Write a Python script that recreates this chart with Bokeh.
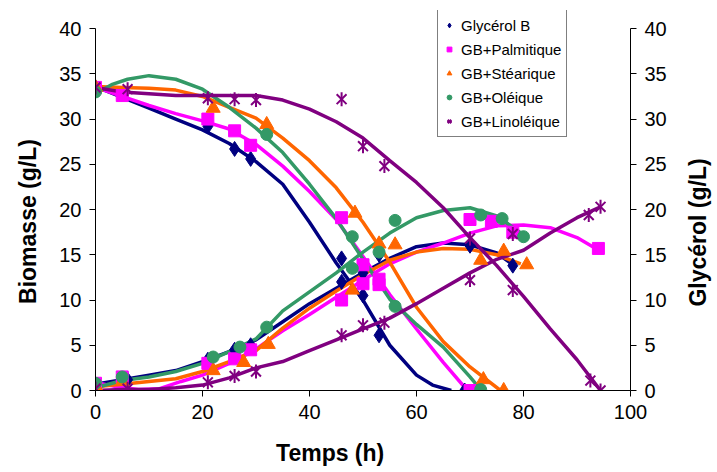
from bokeh.plotting import figure
from bokeh.layouts import row, column
from bokeh.models import Range1d, LinearAxis, SingleIntervalTicker, Legend, LegendItem
from bokeh.core.properties import value
from bokeh.embed import file_html
from bokeh.resources import INLINE
import math

# ---------------- data ----------------
# measured points (markers)
gb_t_gly = [0, 21, 26, 29, 46, 50, 53, 69]
gb_gly = [33.5, 29.2, 26.7, 25.6, 14.6, 10.5, 6.1, 0]
gb_t_bio = [0, 6, 21, 26, 29, 46, 50, 53, 70, 78]
gb_bio = [0.7, 1.2, 3.4, 4.5, 5.0, 12.0, 13.0, 15.0, 16.0, 13.8]

pa_t_gly = [0, 5, 21, 26, 29, 46, 50, 53, 70]
pa_gly = [33.5, 32.6, 30.0, 28.7, 27.1, 19.1, 13.9, 12.3, 0]
pa_t_bio = [0, 5, 21, 26, 29, 46, 50, 53, 70, 74, 78, 94]
pa_bio = [0.8, 1.5, 3.0, 3.5, 4.5, 10.0, 11.8, 11.7, 18.9, 18.7, 17.5, 15.7]

st_t_gly = [0, 22, 32, 48.5, 53, 72.5, 76.3]
st_gly = [33.5, 31.2, 29.4, 19.6, 16.2, 1.2, 0]
st_t_bio = [0, 5, 22, 27.7, 32.3, 48, 56, 72, 76.3, 80.6]
st_bio = [0.5, 1.0, 2.2, 3.1, 5.1, 11.1, 16.1, 14.4, 15.4, 13.9]

ol_t_gly = [0, 32, 48, 56, 72]
ol_gly = [33.0, 28.3, 17.0, 9.3, 0.1]
ol_t_bio = [0, 5, 22, 27, 32, 48, 53, 56, 72, 76, 80]
ol_bio = [0.8, 1.5, 3.7, 4.8, 7.0, 13.5, 15.3, 18.8, 19.4, 19.0, 17.0]

li_t_gly = [0, 6, 21, 26, 30, 46, 50, 54, 70, 78, 92.5, 94.4]
li_gly = [33.5, 33.3, 32.3, 32.2, 32.1, 32.2, 27.0, 24.8, 16.8, 11.1, 1.1, 0]
li_t_bio = [0, 6, 21, 26, 30, 46, 50, 54, 70, 78, 92.2, 94.4]
li_bio = [0.2, 0.2, 0.9, 1.6, 2.1, 6.1, 7.2, 7.5, 12.2, 17.3, 19.4, 20.3]

# fitted curves (lines)
gb_ct_gly = [0, 5, 10, 15, 20, 25, 30, 35, 40, 45, 50, 55, 60, 63, 66.5]
gb_c_gly = [33.6, 32.4, 31.2, 30.0, 28.8, 27.3, 25.3, 22.8, 18.6, 14.1, 10.0, 5.0, 1.7, 0.6, 0]
gb_ct_bio = [0, 5, 10, 15, 20, 25, 30, 35, 40, 45, 50, 55, 60, 65, 70, 75, 78.5]
gb_c_bio = [0.7, 1.2, 1.7, 2.2, 3.2, 4.3, 5.6, 7.6, 9.6, 11.3, 13.0, 14.6, 15.9, 16.3, 16.1, 15.2, 13.7]

pa_ct_gly = [0, 5, 10, 15, 20, 25, 30, 35, 40, 45, 50, 55, 60, 65, 69.5]
pa_c_gly = [33.5, 32.5, 31.5, 30.6, 29.8, 28.9, 27.2, 24.8, 22.0, 18.9, 14.8, 10.6, 6.8, 3.1, 0]
pa_ct_bio = [0, 4, 8, 12, 16, 20, 25, 30, 35, 40, 45, 50, 55, 60, 65, 70, 75, 80, 85, 90, 93.5]
pa_c_bio = [0.9, 0.4, 0.1, 0.2, 1.0, 1.7, 3.0, 4.6, 6.6, 8.4, 10.3, 12.2, 14.0, 15.3, 16.3, 17.4, 18.2, 18.3, 18.0, 16.9, 15.7]

st_ct_gly = [0, 5, 10, 15, 20, 25, 30, 35, 40, 45, 50, 55, 60, 65, 70, 75.7]
st_c_gly = [33.6, 33.5, 33.4, 33.2, 32.5, 31.3, 30.1, 27.9, 25.4, 22.4, 18.6, 14.2, 9.2, 5.4, 2.6, 0]
st_ct_bio = [0, 5, 10, 15, 20, 25, 30, 35, 40, 45, 50, 55, 60, 65, 70, 75, 79.5]
st_c_bio = [0.4, 0.7, 1.0, 1.3, 2.1, 3.2, 4.4, 6.9, 9.1, 11.0, 12.8, 14.4, 15.3, 15.7, 15.6, 15.0, 14.0]

ol_ct_gly = [0, 3, 6, 10, 15, 20, 25, 30, 35, 40, 45, 50, 55, 60, 65, 70, 72]
ol_c_gly = [32.8, 33.8, 34.4, 34.8, 34.4, 33.3, 31.3, 29.0, 26.3, 22.8, 19.0, 14.5, 10.1, 7.3, 4.8, 1.5, 0.1]
ol_ct_bio = [0, 5, 10, 15, 20, 25, 30, 35, 40, 45, 50, 55, 60, 65, 70, 75, 80.5]
ol_c_bio = [0.3, 1.1, 1.5, 2.1, 3.0, 4.3, 5.7, 8.8, 10.9, 13.0, 15.3, 17.4, 19.1, 19.9, 20.2, 19.3, 17.0]

li_ct_gly = [0, 5, 10, 15, 20, 25, 30, 35, 40, 45, 50, 55, 60, 65, 70, 75, 80, 85, 90, 94.4]
li_c_gly = [33.5, 33.0, 32.8, 32.6, 32.6, 32.6, 32.6, 32.1, 31.1, 29.7, 27.9, 25.4, 23.0, 20.2, 16.9, 13.8, 10.4, 6.8, 3.4, 0]
li_ct_bio = [0, 5, 10, 15, 20, 25, 30, 35, 40, 45, 50, 55, 60, 65, 70, 75, 80, 85, 90, 94.4]
li_c_bio = [0, 0.1, 0.1, 0.3, 0.6, 1.4, 2.5, 3.2, 4.4, 5.6, 6.8, 8.0, 9.6, 11.3, 13.0, 14.5, 15.5, 17.4, 19.1, 20.3]

labels = ["Glycérol B", "GB+Palmitique", "GB+Stéarique", "GB+Oléique", "GB+Linoléique"]
colors = ["#000080", "#FF00FF", "#FF6600", "#339966", "#800080"]
x_title = "Temps (h)"
y_left_title = "Biomasse (g/L)"
y_right_title = "Glycérol (g/L)"

FONT = "Liberation Sans"

# ---------------- main plot ----------------
p = figure(width=627, height=437, output_backend="svg", toolbar_location=None,
           x_range=Range1d(0, 100), y_range=Range1d(0, 42),
           min_border_left=50, min_border_right=42, min_border_top=10, min_border_bottom=47)
p.outline_line_color = None
p.xgrid.visible = False
p.ygrid.visible = False
p.background_fill_color = "white"

p.extra_y_ranges = {"gly": Range1d(0, 42)}
raxis = LinearAxis(y_range_name="gly")
p.add_layout(raxis, "right")

for ax in [p.xaxis[0], p.yaxis[0], raxis]:
    ax.axis_line_color = "black"
    ax.axis_line_width = 1
    ax.major_tick_line_color = "black"
    ax.major_tick_in = 0
    ax.major_tick_out = 6
    ax.minor_tick_line_color = None
    ax.major_label_text_font = FONT
    ax.major_label_text_font_size = "20px"
    ax.major_label_text_color = "black"
    ax.major_label_standoff = 8

p.yaxis[0].bounds = (0, 40)
raxis.bounds = (0, 40)
p.xaxis[0].ticker = SingleIntervalTicker(interval=20)
p.yaxis[0].ticker = SingleIntervalTicker(interval=5)
raxis.ticker = SingleIntervalTicker(interval=5)

curves = [
    (gb_ct_gly, gb_c_gly, gb_ct_bio, gb_c_bio),
    (pa_ct_gly, pa_c_gly, pa_ct_bio, pa_c_bio),
    (st_ct_gly, st_c_gly, st_ct_bio, st_c_bio),
    (ol_ct_gly, ol_c_gly, ol_ct_bio, ol_c_bio),
    (li_ct_gly, li_c_gly, li_ct_bio, li_c_bio),
]
points = [
    (gb_t_gly, gb_gly, gb_t_bio, gb_bio),
    (pa_t_gly, pa_gly, pa_t_bio, pa_bio),
    (st_t_gly, st_gly, st_t_bio, st_bio),
    (ol_t_gly, ol_gly, ol_t_bio, ol_bio),
    (li_t_gly, li_gly, li_t_bio, li_bio),
]

for (tg, g, tb, b), c in zip(curves, colors):
    p.line(tg, g, line_color=c, line_width=3.5)
    p.line(tb, b, line_color=c, line_width=3.5)

markers = ["diamond", "square", "triangle", "circle", None]
sizes = [15, 12, 14, 12, 14]
items = []
for (tg, g, tb, b), c, m, s, lab in zip(points, colors, markers, sizes, labels):
    xs = list(tg) + list(tb)
    ys = list(g) + list(b)
    if m is not None:
        r = p.scatter(xs, ys, marker=m, size=s, fill_color=c, line_color=c)
        items.append(LegendItem(label=lab, renderers=[r]))
    else:
        r1 = p.scatter(xs, ys, marker="x", size=s, line_color=c, line_width=2)
        r2 = p.scatter(xs, ys, marker="dash", size=s, angle=math.pi / 2, line_color=c, line_width=2)
        items.append(LegendItem(label=lab, renderers=[r1, r2]))

legend = Legend(items=items, location=(342, 253))
legend.label_text_font = FONT
legend.label_text_font_size = "15px"
legend.label_text_color = "black"
legend.border_line_color = "black"
legend.border_line_width = 1
legend.background_fill_color = "white"
legend.background_fill_alpha = 1
legend.padding = 5
legend.spacing = 4
legend.margin = 0
legend.label_height = 20
legend.glyph_height = 20
legend.glyph_width = 12
legend.label_standoff = 6
p.add_layout(legend, "center")


# ---------------- title strips (axis titles) ----------------
def strip(w, h):
    f = figure(width=w, height=h, output_backend="svg", toolbar_location=None,
               x_range=Range1d(0, w), y_range=Range1d(0, h), min_border=0,
               x_axis_location=None, y_axis_location=None)
    f.outline_line_color = None
    f.xgrid.visible = False
    f.ygrid.visible = False
    return f


left = strip(45, 472)
left.text(x=[27], y=[251], text=[y_left_title], angle=math.pi / 2,
          text_align="center", text_baseline="middle", text_font=value(FONT),
          text_font_style="bold", text_font_size="23px", text_color="black")

right = strip(45, 472)
right.text(x=[25], y=[240], text=[y_right_title], angle=math.pi / 2,
           text_align="center", text_baseline="middle", text_font=value(FONT),
           text_font_style="bold", text_font_size="23px", text_color="black")

bottom = strip(627, 35)
bottom.text(x=[275], y=[20], text=[x_title], text_align="center",
            text_baseline="middle", text_font=value(FONT),
            text_font_style="bold", text_font_size="23px", text_color="black")

layout = row(left, column(p, bottom, spacing=0), right, spacing=0)

open("out.html", "w").write(file_html(layout, INLINE))
